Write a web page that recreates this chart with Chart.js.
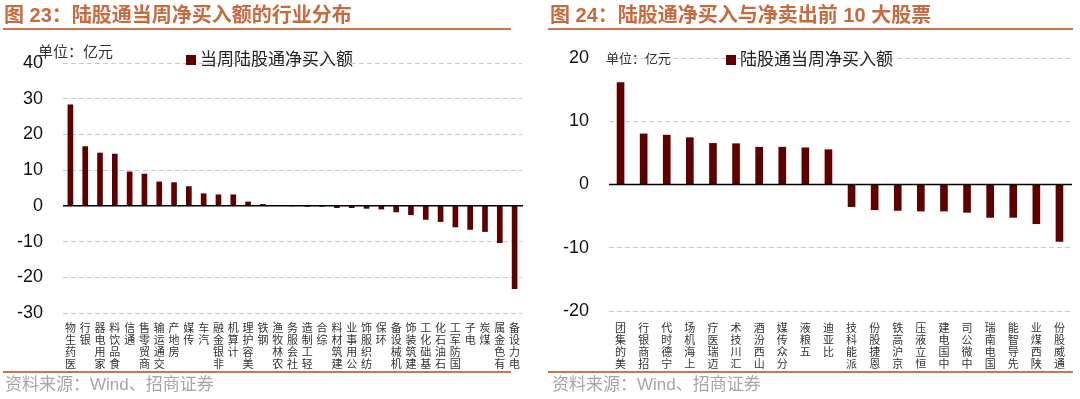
<!DOCTYPE html>
<html>
<head>
<meta charset="utf-8">
<script src="https://cdn.jsdelivr.net/npm/chart.js@4/dist/chart.umd.min.js"></script>
<style>
    body { margin: 0; width: 1080px; height: 399px; background: #fff; position: relative; overflow: hidden;
           font-family: "Liberation Sans", "Noto Sans CJK SC", sans-serif; }
    canvas { position: absolute; top: 0; }
    .title { position: absolute; top: 3px; font-size: 20px; line-height: 24px; font-weight: bold; color: #c8693f; white-space: nowrap; z-index: 2; }
    .rule { position: absolute; height: 2px; background: #cc7650; z-index: 2; }
    .src { position: absolute; top: 374px; font-size: 17px; line-height: 22px; color: #a6a6a6; white-space: nowrap; z-index: 2; }
    .unit { position: absolute; font-family: "Noto Sans CJK SC"; color: #333; white-space: nowrap; z-index: 2; }
    .legend { position: absolute; font-family: "Noto Sans CJK SC"; font-size: 17px; line-height: 20px; color: #222; white-space: nowrap; z-index: 2; }
    .legend i { display: inline-block; width: 10px; height: 10px; background: #5e0000; margin-right: 4px; vertical-align: 0px; }
</style>
</head>
<body>
<div class="title" style="left:4px">图 23：陆股通当周净买入额的行业分布</div>
<div class="rule" style="left:3px;top:28px;width:508px"></div>
<div class="title" style="left:550px">图 24：陆股通净买入与净卖出前 10 大股票</div>
<div class="rule" style="left:548px;top:28px;width:525px"></div>

<canvas id="chart_industry" width="540" height="399" style="left:0"></canvas>
<canvas id="chart_stock" width="540" height="399" style="left:540px"></canvas>

<div class="unit" style="left:38px;top:42px;font-size:15px;line-height:18px">单位：亿元</div>
<div class="legend" style="left:186px;top:48px"><i></i>当周陆股通净买入额</div>
<div class="unit" style="left:606px;top:50px;font-size:13px;line-height:16px">单位：亿元</div>
<div class="legend" style="left:726px;top:48px"><i></i>陆股通当周净买入额</div>

<div class="rule" style="left:3px;top:371px;width:508px"></div>
<div class="src" style="left:5px">资料来源：Wind、招商证券</div>
<div class="rule" style="left:548px;top:371px;width:525px"></div>
<div class="src" style="left:552px">资料来源：Wind、招商证券</div>

<script>
// 图23 行业分布 (亿元)
const industryNames = ['医药生物', '银行', '家用电器', '食品饮料', '通信', '商贸零售', '交通运输', '房地产', '传媒', '汽车',
    '非银金融', '计算机', '美容护理', '钢铁', '农林牧渔', '社会服务', '轻工制造', '综合', '建筑材料', '公用事业',
    '纺织服饰', '环保', '机械设备', '建筑装饰', '基础化工', '石油石化', '国防军工', '电子', '煤炭', '有色金属', '电力设备'];
const industryFlow = [28.3, 16.6, 14.8, 14.5, 9.5, 8.9, 6.7, 6.5, 5.4, 3.4,
    3.1, 3.1, 1.1, 0.4, 0.1, 0.0, -0.1, -0.1, -0.5, -0.5,
    -0.7, -0.9, -1.7, -2.5, -3.8, -4.4, -5.9, -6.6, -7.2, -10.3, -23.2];
const industryTicks = [-30, -20, -10, 0, 10, 20, 30, 40];

// 图24 前10大个股 (亿元)
const stockNames = ['美的集团', '招商银行', '宁德时代', '上海机场', '迈瑞医疗', '汇川技术', '山西汾酒', '分众传媒', '五粮液', '比亚迪',
    '派能科技', '恩捷股份', '京沪高铁', '恒立液压', '中国电建', '中微公司', '国电南瑞', '先导智能', '陕西煤业', '通威股份'];
const stockFlow = [16.1, 8.0, 7.8, 7.4, 6.5, 6.45, 5.9, 5.9, 5.8, 5.5,
    -3.5, -4.0, -4.1, -4.2, -4.2, -4.4, -5.2, -5.2, -6.2, -9.0];
const stockTicks = [-20, -10, 0, 10, 20];

// solid zero line across the plot
const zeroLine = {
    id: 'zeroLine',
    afterDatasetsDraw(chart) {
        const ctx = chart.ctx;
        const area = chart.chartArea;
        const y = chart.scales.y.getPixelForValue(0);
        ctx.save();
        ctx.strokeStyle = '#000';
        ctx.lineWidth = 1.5;
        ctx.beginPath();
        ctx.moveTo(area.left, y);
        ctx.lineTo(area.right + 1, y);
        ctx.stroke();
        ctx.restore();
    }
};

function flowChart(id, labels, values, ticks, area, barWidth, labelPad) {
    return new Chart(document.getElementById(id), {
        type: 'bar',
        data: {
            labels: labels,
            datasets: [{ data: values, backgroundColor: '#5e0000', barThickness: barWidth }]
        },
        options: {
            responsive: false,
            animation: false,
            layout: { padding: { left: 0, right: 540 - area.right, top: area.top, bottom: 0 } },
            plugins: { legend: { display: false }, tooltip: { enabled: false } },
            scales: {
                x: {
                    grid: { display: false },
                    border: { display: false },
                    ticks: {
                        autoSkip: false, maxRotation: 0, minRotation: 0, padding: labelPad, color: '#333',
                        font: { family: '"Noto Sans CJK SC"', size: 11, lineHeight: 1.08 },
                        // vertical text, read bottom to top, anchored at the axis
                        callback: (v, i) => labels[i].split('').reverse()
                    },
                    afterFit: s => { s.height = 399 - area.bottom; }
                },
                y: {
                    min: ticks[0],
                    max: ticks[ticks.length - 1],
                    afterBuildTicks: s => { s.ticks = ticks.map(v => ({ value: v })); },
                    ticks: { padding: 20, color: '#111', font: { family: '"Liberation Sans"', size: 18 } },
                    grid: {
                        drawTicks: false,
                        lineWidth: 1,
                        color: c => c.tick && c.tick.value === 0 ? 'rgba(0,0,0,0)' : '#c9c9c9'
                    },
                    border: { display: false, dash: [5, 3] },
                    afterFit: s => { s.width = area.left; }
                }
            }
        },
        plugins: [zeroLine]
    });
}

flowChart('chart_industry', industryNames, industryFlow, industryTicks,
    { left: 63, right: 522, top: 63, bottom: 313 }, 5, 1);
flowChart('chart_stock', stockNames, stockFlow, stockTicks,
    { left: 69, right: 531, top: 58, bottom: 311 }, 7, 3);
</script>
</body>
</html>
